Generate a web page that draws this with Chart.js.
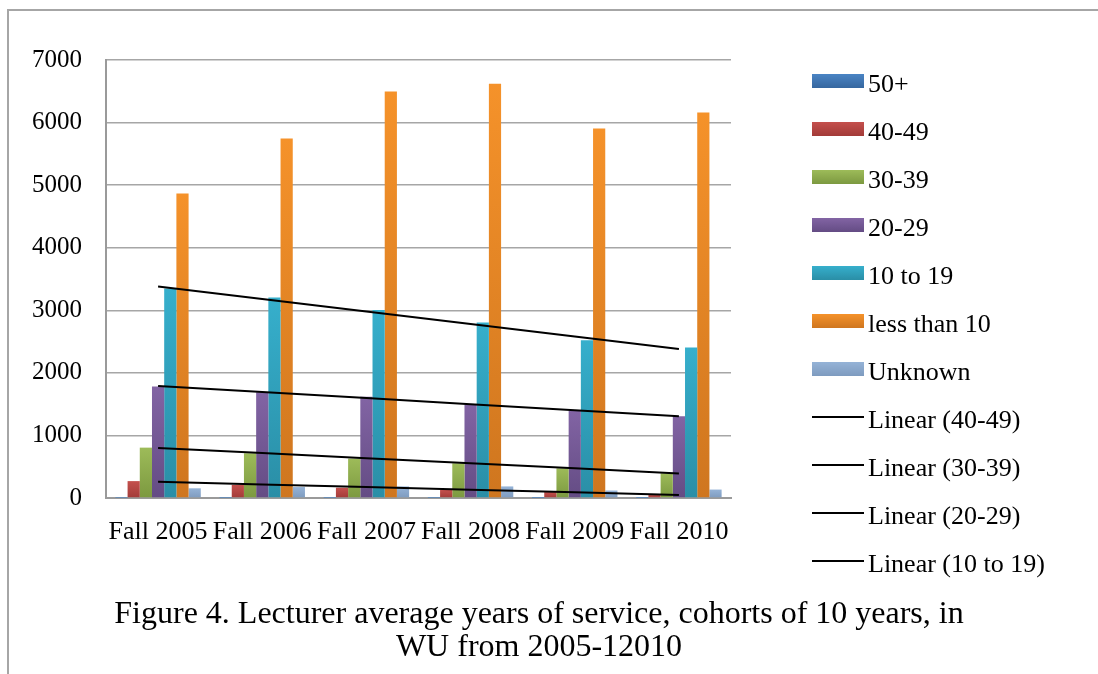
<!DOCTYPE html>
<html>
<head>
<meta charset="utf-8">
<script src="https://cdn.jsdelivr.net/npm/chart.js@4.4.0/dist/chart.umd.min.js"></script>
<style>
  html, body { margin: 0; padding: 0; background: #fff; overflow: hidden; }
  body { width: 1098px; height: 674px; position: relative; font-family: 'Liberation Serif', 'Times New Roman', serif; color: #000; }
  .frame { position: absolute; left: 7px; top: 9px; width: 1200px; height: 800px; border-left: 2px solid #a6a6a6; border-top: 2px solid #a6a6a6; }
  .chart-box { position: absolute; left: 0; top: 0; width: 1098px; height: 674px; }
  .legend { position: absolute; left: 812px; top: 57px; }
  .legend .item { height: 48px; display: flex; align-items: center; }
  .legend .key { width: 52px; height: 14px; flex: none; }
  .legend .key.line { height: 2px; background: #000; }
  .legend .text { margin-left: 4px; font-size: 26px; position: relative; top: 3px; white-space: nowrap; }
  .caption { position: absolute; left: 0; top: 596px; width: 1078px; text-align: center; font-size: 32px; line-height: 33px; }
</style>
</head>
<body>
<div class="frame"></div>
<div class="chart-box"><canvas id="chart"></canvas></div>
<div class="legend" id="legend"></div>
<div class="caption">Figure 4. Lecturer average years of service, cohorts of 10 years, in<br>WU from 2005-12010</div>
<script>
// values
const categories = ['Fall 2005', 'Fall 2006', 'Fall 2007', 'Fall 2008', 'Fall 2009', 'Fall 2010'];
const over50     = [3, 2, 2, 2, 1, 1];
const s40to49    = [270, 210, 165, 130, 95, 50];
const s30to39    = [805, 715, 630, 555, 475, 395];
const s20to29    = [1780, 1690, 1620, 1495, 1400, 1305];
const s10to19    = [3350, 3205, 3005, 2805, 2520, 2405];
const lessThan10 = [4865, 5745, 6495, 6620, 5905, 6160];
const unknown    = [155, 175, 185, 185, 120, 135];
const yTicks     = { min: 0, max: 7000, step: 1000 };

// least squares line, like excel's "Linear" trendline
function linearTrend(values) {
  const n = values.length;
  const mx = (n + 1) / 2;
  const my = values.reduce((a, b) => a + b, 0) / n;
  let sxy = 0, sxx = 0;
  values.forEach((v, i) => { sxy += (i + 1 - mx) * (v - my); sxx += (i + 1 - mx) ** 2; });
  const slope = sxy / sxx;
  return values.map((_, i) => my + slope * (i + 1 - mx));
}

// light at the top of each bar, darker at the base
function barFill(light, dark) {
  return (c) => {
    const chart = c.chart;
    const y = chart.scales && chart.scales.y;
    if (!chart.chartArea || !y || typeof c.raw !== 'number') return light;
    const top = y.getPixelForValue(c.raw);
    const bottom = y.getPixelForValue(0);
    if (bottom - top < 2) return light;
    const g = chart.ctx.createLinearGradient(0, top, 0, bottom);
    g.addColorStop(0, light);
    g.addColorStop(1, dark);
    return g;
  };
}

function bar(label, data, light, dark) {
  return { label, data, backgroundColor: barFill(light, dark), borderWidth: 0, order: 1, swatch: [light, dark] };
}
function trend(label, data) {
  return { type: 'line', label, data: linearTrend(data), borderColor: '#000', backgroundColor: '#000',
           borderWidth: 2, pointRadius: 0, fill: false, tension: 0, order: 0 };
}

// legend as html, built from chart.js's own legend items
const htmlLegend = {
  id: 'htmlLegend',
  afterUpdate(chart) {
    const box = document.getElementById('legend');
    box.innerHTML = '';
    const items = Chart.defaults.plugins.legend.labels.generateLabels(chart)
      .sort((a, b) => a.datasetIndex - b.datasetIndex);
    items.forEach((item) => {
      const ds = chart.data.datasets[item.datasetIndex];
      const row = document.createElement('div');
      row.className = 'item';
      const key = document.createElement('span');
      if (ds.type === 'line') {
        key.className = 'key line';
      } else {
        key.className = 'key';
        key.style.background = 'linear-gradient(' + ds.swatch[0] + ', ' + ds.swatch[1] + ')';
      }
      const text = document.createElement('span');
      text.className = 'text';
      text.textContent = item.text;
      row.append(key, text);
      box.appendChild(row);
    });
  }
};

Chart.defaults.font.family = "'Liberation Serif', 'Times New Roman', serif";
Chart.defaults.color = '#000';

new Chart(document.getElementById('chart'), {
  type: 'bar',
  data: {
    labels: categories,
    datasets: [
      bar('50+', over50, '#4a84c4', '#36679f'),
      bar('40-49', s40to49, '#c4504d', '#a23b38'),
      bar('30-39', s30to39, '#9dbb59', '#7c9940'),
      bar('20-29', s20to29, '#8264a4', '#644c84'),
      bar('10 to 19', s10to19, '#36afcc', '#2a8ea6'),
      bar('less than 10', lessThan10, '#f5922a', '#cf761f'),
      bar('Unknown', unknown, '#95b3d7', '#7e9bbf'),
      trend('Linear (40-49)', s40to49),
      trend('Linear (30-39)', s30to39),
      trend('Linear (20-29)', s20to29),
      trend('Linear (10 to 19)', s10to19)
    ]
  },
  plugins: [htmlLegend],
  options: {
    responsive: true,
    maintainAspectRatio: false,
    animation: false,
    layout: { padding: { top: 60, right: 367, bottom: 40, left: 0 } },
    datasets: { bar: { categoryPercentage: 0.82, barPercentage: 1.0 } },
    scales: {
      x: {
        grid: { display: false, drawTicks: false },
        border: { color: '#9a9a9a', width: 2 },
        ticks: { font: { size: 26 }, padding: 19, autoSkip: false, maxRotation: 0 },
        afterFit: (s) => { s.height = 136; }
      },
      y: {
        min: yTicks.min, max: yTicks.max,
        ticks: { stepSize: yTicks.step, font: { size: 25 }, padding: 24, callback: (v) => String(v) },
        grid: { color: '#a6a6a6', lineWidth: 1.5, drawTicks: false },
        border: { color: '#9a9a9a', width: 2 },
        afterFit: (s) => { s.width = 106; }
      }
    },
    plugins: {
      tooltip: { enabled: false },
      legend: { display: false }
    }
  }
});
</script>
</body>
</html>
